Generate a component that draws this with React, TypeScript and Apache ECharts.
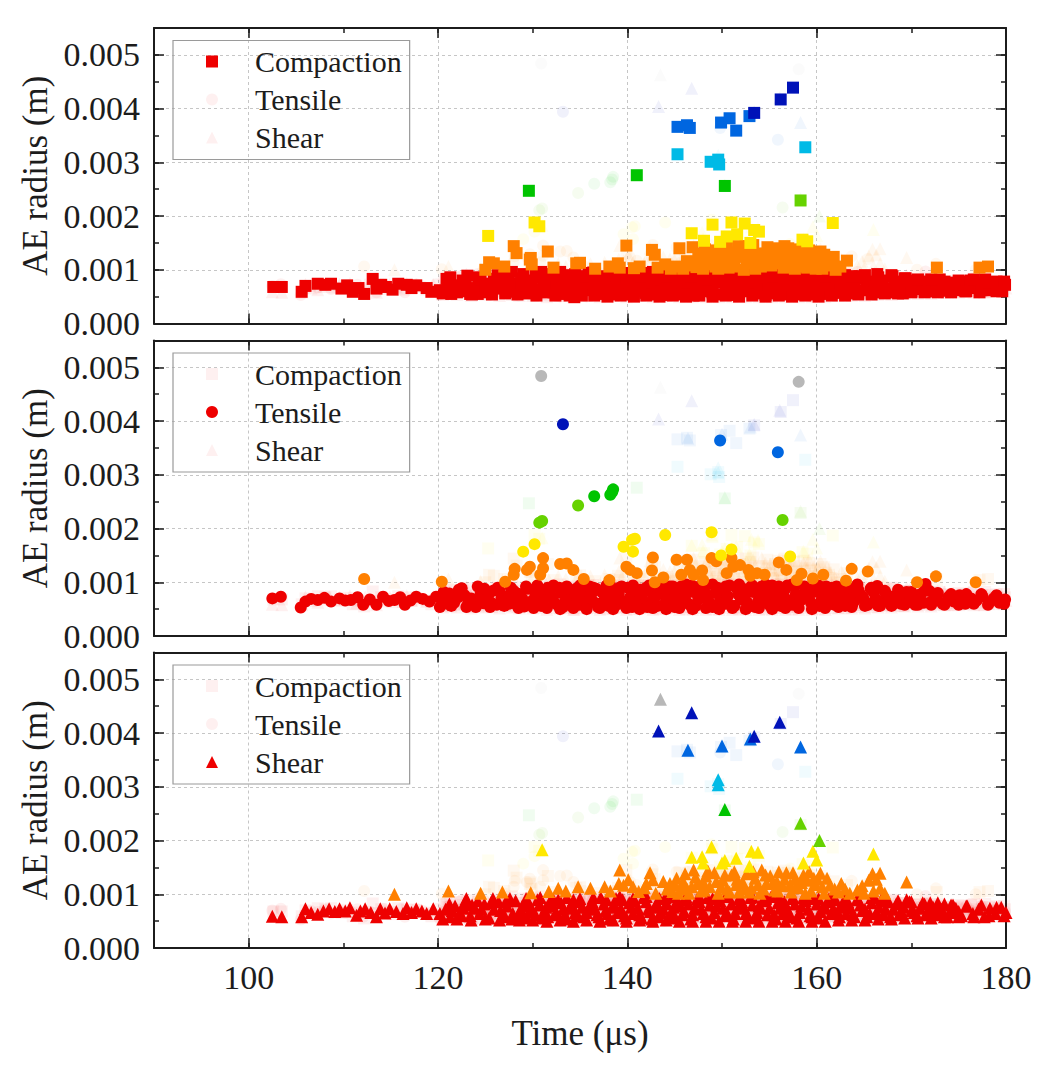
import React, { useEffect, useRef } from 'react';
import * as echarts from 'echarts';

// ---------- labels ----------
const typeNames = ['Compaction', 'Tensile', 'Shear'];
const xTickLabels = ['100', '120', '140', '160', '180'];
const yTickLabels = ['0.000', '0.001', '0.002', '0.003', '0.004', '0.005'];
const xAxisTitle = 'Time (μs)';
const yAxisTitle = 'AE radius (m)';

// ---------- Compaction (time µs, radius m) ----------
const compactionBand = [
  [102.6,6.8e-4],[103.5,6.8e-4],[105.6,5.9e-4],[106.0,7.0e-4],[107.3,7.4e-4],[108.1,7.2e-4],[108.7,7.4e-4],[109.8,6.5e-4],[110.4,7.1e-4],[111.0,5.9e-4],[111.6,6.6e-4],[112.2,5.5e-4],[113.1,8.3e-4],[113.5,6.5e-4],[114.0,7.2e-4],[114.5,6.8e-4],[115.2,6.3e-4],[115.8,7.4e-4],[116.7,7.2e-4],[117.2,6.6e-4],[117.7,7.1e-4],[118.8,6.6e-4],[119.3,5.9e-4],
  [120.2,6.2e-4],[120.9,8.3e-4],[121.4,5.5e-4],[121.8,7.0e-4],[122.3,7.1e-4],[122.8,6.0e-4],[123.1,8.9e-4],[123.4,5.5e-4],[124.2,5.5e-4],[124.8,7.1e-4],[125.3,6.2e-4],[125.9,8.3e-4],[126.6,6.5e-4],[127.1,5.6e-4],[127.8,9.6e-4],[128.0,5.9e-4],[128.5,7.4e-4],[129.0,9.2e-4],[129.7,8.0e-4],[130.1,6.4e-4],[130.4,5.2e-4],[130.9,9.6e-4],[131.2,7.4e-4],[131.6,7.1e-4],[132.2,5.8e-4],[132.9,9.6e-4],[133.2,5.5e-4],[133.6,7.8e-4],[134.0,6.6e-4],[134.4,4.9e-4],[134.9,8.6e-4],[135.3,6.5e-4],[135.9,7.6e-4],[136.4,9.5e-4],[136.8,5.5e-4],[137.3,7.0e-4],[137.8,8.8e-4],[138.2,5.8e-4],[138.7,7.4e-4],[139.2,9.2e-4],[139.6,6.2e-4],[140.1,5.4e-4],[140.6,8.0e-4],[141.0,7.0e-4],[141.5,9.4e-4],[141.9,5.7e-4],[142.4,7.6e-4],[142.9,8.6e-4],[143.3,6.3e-4],[143.8,5.3e-4],[144.2,9.0e-4],[144.7,7.2e-4],[145.1,5.8e-4],[145.6,8.4e-4],[146.0,9.6e-4],[146.5,6.5e-4],[147.0,5.2e-4],[147.4,7.8e-4],[147.9,9.2e-4],[148.3,6.0e-4],[148.8,7.0e-4],[149.2,8.8e-4],[149.7,5.4e-4],[150.1,7.6e-4],[150.6,9.5e-4],[151.0,6.4e-4],[151.5,5.3e-4],[151.9,8.2e-4],[152.4,7.2e-4],[152.8,9.0e-4],[153.3,5.8e-4],[153.7,6.8e-4],[154.2,8.6e-4],[154.6,5.3e-4],[155.1,9.4e-4],[155.5,7.4e-4],[156.0,6.0e-4],[156.4,8.4e-4],[156.9,5.4e-4],[157.3,9.2e-4],[157.8,6.8e-4],[158.2,7.8e-4],[158.7,5.6e-4],[159.1,8.9e-4],[159.6,6.5e-4],[160.0,7.4e-4],[160.5,5.5e-4],[160.9,9.0e-4],[161.4,6.8e-4],[161.8,7.8e-4],[162.3,5.7e-4],[162.8,8.6e-4],[163.2,6.6e-4],[163.7,7.6e-4],[164.2,5.8e-4],[164.8,8.4e-4],[165.3,6.8e-4],[165.9,6.0e-4],[166.4,9.2e-4],[166.9,7.4e-4],[167.5,6.2e-4],[168.0,8.8e-4],[168.6,6.8e-4],[169.1,5.6e-4],[169.7,7.6e-4],[170.3,6.4e-4],[170.9,7.2e-4],[171.5,6.0e-4],[172.1,7.0e-4],[172.7,6.5e-4],[173.3,7.3e-4],[173.9,6.1e-4],[174.5,6.8e-4],[175.1,7.2e-4],[175.7,6.0e-4],[176.3,8.0e-4],[176.9,6.6e-4],[177.5,7.6e-4],[178.1,6.2e-4],[178.7,7.0e-4],[179.3,6.5e-4],[179.9,7.2e-4],
];
const compactionBand2 = [
  [121.1,7.6e-4],[121.6,6.4e-4],[122.6,8.0e-4],[123.7,6.6e-4],[124.5,8.2e-4],[125.1,5.8e-4],[125.6,7.4e-4],[126.3,9.0e-4],[126.9,7.2e-4],[127.4,8.4e-4],[128.2,6.6e-4],[128.8,8.4e-4],[129.3,6.0e-4],[129.9,7.2e-4],[130.6,8.6e-4],[131.4,5.8e-4],[132.0,8.6e-4],[132.5,6.8e-4],[133.0,7.6e-4],[133.8,9.0e-4],[134.2,5.6e-4],[134.7,7.4e-4],[135.1,5.6e-4],[135.6,8.8e-4],[136.1,6.2e-4],[136.6,7.8e-4],[137.1,6.0e-4],[137.6,8.0e-4],[138.0,6.6e-4],[138.5,9.4e-4],[139.0,5.4e-4],[139.4,7.8e-4],[139.9,8.6e-4],[140.4,6.6e-4],[140.8,9.2e-4],[141.3,6.0e-4],[141.7,7.8e-4],[142.2,5.4e-4],[142.6,9.2e-4],[143.1,7.0e-4],[143.5,8.2e-4],[144.0,6.4e-4],[144.5,7.8e-4],[144.9,9.4e-4],[145.4,6.8e-4],[145.8,5.4e-4],[146.3,7.6e-4],[146.7,8.8e-4],[147.2,6.2e-4],[147.6,9.6e-4],[148.1,7.4e-4],[148.5,8.2e-4],[149.0,5.8e-4],[149.5,7.8e-4],[149.9,9.6e-4],[150.4,6.2e-4],[150.8,8.6e-4],[151.2,7.2e-4],[151.7,9.4e-4],[152.2,6.0e-4],[152.6,7.8e-4],[153.1,9.6e-4],[153.5,7.6e-4],[154.0,5.6e-4],[154.4,7.8e-4],[154.9,6.4e-4],[155.3,8.8e-4],[155.8,5.6e-4],[156.2,9.6e-4],[156.7,7.0e-4],[157.1,6.2e-4],[157.6,8.6e-4],[158.0,5.4e-4],[158.5,9.4e-4],[158.9,7.0e-4],[159.4,5.4e-4],[159.8,8.4e-4],[160.3,6.6e-4],[160.7,7.8e-4],[161.2,9.4e-4],[161.6,5.8e-4],[162.1,7.2e-4],[162.5,6.4e-4],[163.0,9.0e-4],[163.5,5.6e-4],[164.0,7.2e-4],[164.5,8.8e-4],[165.0,6.2e-4],[165.6,7.8e-4],[166.1,5.8e-4],[166.7,8.0e-4],[167.2,6.6e-4],[167.8,5.8e-4],[168.3,7.8e-4],[168.9,6.4e-4],[169.4,8.4e-4],[170.0,6.0e-4],[170.6,8.0e-4],[171.2,6.6e-4],[171.8,7.8e-4],[172.4,6.0e-4],[173.0,8.2e-4],[173.6,6.6e-4],[174.2,7.6e-4],[174.8,6.2e-4],[175.4,7.8e-4],[176.0,6.8e-4],[176.6,7.2e-4],[177.2,5.8e-4],[177.8,8.2e-4],[178.4,6.8e-4],[179.0,7.8e-4],[179.6,6.0e-4],
];
const compactionBand3 = [
  [120.5,5.6e-4],[121.3,8.6e-4],[122.0,5.8e-4],[122.9,7.4e-4],[123.6,5.4e-4],[124.3,8.6e-4],[125.0,6.8e-4],[125.7,5.4e-4],[126.4,7.8e-4],[127.0,9.0e-4],[127.6,6.8e-4],[128.4,5.4e-4],[129.1,7.0e-4],[129.6,5.6e-4],[130.3,9.0e-4],[131.0,6.0e-4],[131.8,9.2e-4],[132.4,5.2e-4],[133.1,6.6e-4],[133.9,5.2e-4],[134.5,9.2e-4],[135.2,5.2e-4],[135.9,9.4e-4],[136.5,5.2e-4],[137.2,8.6e-4],[137.9,5.0e-4],[138.6,9.0e-4],[139.3,5.2e-4],[140.0,9.4e-4],[140.7,5.0e-4],[141.4,8.8e-4],[142.0,5.2e-4],[142.7,9.6e-4],[143.4,5.0e-4],[144.1,8.8e-4],[144.8,5.2e-4],[145.5,9.4e-4],[146.2,5.0e-4],[146.9,9.2e-4],[147.6,5.2e-4],[148.3,9.4e-4],[149.0,5.0e-4],[149.7,9.2e-4],[150.4,5.2e-4],[151.1,9.6e-4],[151.8,5.0e-4],[152.5,9.4e-4],[153.2,5.2e-4],[153.9,9.2e-4],[154.6,5.0e-4],[155.3,9.6e-4],[156.0,5.2e-4],[156.7,9.4e-4],[157.4,5.0e-4],[158.1,9.0e-4],[158.8,5.2e-4],[159.5,9.4e-4],[160.2,5.0e-4],[160.9,8.8e-4],[161.6,5.2e-4],[162.3,9.2e-4],[163.0,5.2e-4],[163.7,8.8e-4],[164.4,5.4e-4],[165.1,9.0e-4],[165.8,5.4e-4],[166.5,8.6e-4],[167.2,5.6e-4],[167.9,9.0e-4],[168.6,5.6e-4],[169.3,8.4e-4],[170.0,5.8e-4],[170.7,8.2e-4],[171.4,5.8e-4],[172.1,8.2e-4],[172.8,5.8e-4],[173.5,7.8e-4],[174.2,5.8e-4],[175.0,8.0e-4],[175.8,6.0e-4],[176.6,8.2e-4],[177.4,6.2e-4],[178.2,7.6e-4],[179.0,6.0e-4],[179.8,7.8e-4],
];
const compactionOrange = [
  [125.0,1.00e-3],[125.4,1.14e-3],[125.9,1.12e-3],[128.0,1.44e-3],[128.3,1.31e-3],[129.7,1.19e-3],[129.9,1.10e-3],[129.8,1.22e-3],[131.6,1.34e-3],[134.6,1.12e-3],[135.0,1.13e-3],[138.1,1.06e-3],[139.0,1.12e-3],[139.2,1.04e-3],[139.9,1.45e-3],[140.7,1.03e-3],[142.6,1.37e-3],[142.9,1.28e-3],[144.0,1.10e-3],[145.1,1.06e-3],[145.5,1.40e-3],[146.3,1.16e-3],[146.9,1.42e-3],
  [127.0,1.06e-3],[132.2,1.04e-3],[136.6,1.02e-3],[141.3,1.06e-3],[143.2,1.04e-3],[144.6,1.02e-3],
  [147.3,1.05e-3],[147.8,1.22e-3],[148.2,1.38e-3],[148.7,1.10e-3],[149.1,1.28e-3],[149.6,1.02e-3],[150.0,1.40e-3],[150.4,1.18e-3],[150.9,1.32e-3],[151.3,1.06e-3],[151.7,1.44e-3],[152.1,1.24e-3],[152.6,1.12e-3],[153.0,1.38e-3],[153.5,1.02e-3],[153.9,1.30e-3],[154.3,1.18e-3],[154.8,1.42e-3],[155.2,1.08e-3],[155.6,1.34e-3],[156.1,1.22e-3],[156.5,1.04e-3],[157.0,1.40e-3],[157.4,1.16e-3],[157.9,1.30e-3],[158.3,1.06e-3],[158.8,1.26e-3],[159.2,1.36e-3],[159.7,1.12e-3],[160.1,1.24e-3],[160.6,1.02e-3],[161.0,1.18e-3],[161.5,1.08e-3],[162.0,1.00e-3],
  [148.0,1.02e-3],[149.4,1.16e-3],[150.7,1.04e-3],[152.3,1.00e-3],[153.7,1.14e-3],[155.0,1.26e-3],[156.3,1.12e-3],[157.7,1.02e-3],[159.0,1.04e-3],[160.4,1.34e-3],[145.9,1.02e-3],[146.6,1.08e-3],
  [147.5,1.30e-3],[148.4,1.20e-3],[149.3,1.06e-3],[150.2,1.28e-3],[151.0,1.12e-3],[151.9,1.34e-3],[152.8,1.26e-3],[153.3,1.46e-3],[154.1,1.06e-3],[155.4,1.18e-3],[155.9,1.40e-3],[156.8,1.30e-3],[157.2,1.08e-3],[158.1,1.20e-3],[158.6,1.40e-3],[159.4,1.22e-3],[159.9,1.02e-3],[160.8,1.28e-3],[161.3,1.14e-3],[161.8,1.24e-3],[162.5,1.06e-3],[147.0,1.14e-3],[148.9,1.36e-3],[150.5,1.42e-3],[152.5,1.44e-3],[154.6,1.30e-3],[156.6,1.44e-3],[157.6,1.38e-3],
  [163.2,1.17e-3],[172.7,1.04e-3],[177.2,1.04e-3],[178.1,1.06e-3],
];
const compactionHigh = [
  [125.3,1.63e-3],[130.2,1.88e-3],[130.7,1.81e-3],[146.8,1.68e-3],[148.1,1.54e-3],[149.0,1.84e-3],[149.8,1.52e-3],[150.5,1.62e-3],[151.0,1.88e-3],[151.6,1.66e-3],[152.4,1.86e-3],[153.0,1.50e-3],[153.4,1.74e-3],[153.9,1.71e-3],[158.5,1.56e-3],[159.0,1.53e-3],[161.7,1.87e-3],
  [129.6,2.47e-3],[141.0,2.76e-3],[150.3,2.56e-3],[158.3,2.29e-3],
  [145.3,3.15e-3],[148.8,3.01e-3],[149.6,3.05e-3],[149.7,2.96e-3],[158.8,3.28e-3],
  [145.3,3.66e-3],[146.3,3.69e-3],[146.6,3.64e-3],[149.9,3.74e-3],[150.8,3.82e-3],[151.5,3.59e-3],[152.9,3.86e-3],
  [153.4,3.92e-3],[156.2,4.17e-3],[157.5,4.39e-3],
];

// ---------- Tensile ----------
const tensileBand = [
  [102.5,7.0e-4],[103.4,7.3e-4],[105.5,5.3e-4],[106.0,6.4e-4],[106.6,6.9e-4],[107.3,6.7e-4],[108.0,7.1e-4],[108.7,6.4e-4],[109.6,7.0e-4],[110.2,6.6e-4],[110.8,6.7e-4],[111.5,7.2e-4],[112.1,5.8e-4],[112.8,6.8e-4],[113.5,5.8e-4],[114.2,7.3e-4],[114.8,6.5e-4],[115.4,6.7e-4],[116.0,7.2e-4],[116.5,5.8e-4],[117.1,6.6e-4],[117.7,7.3e-4],[118.4,6.9e-4],[119.1,6.4e-4],[119.8,7.3e-4],
  [120.2,5.4e-4],[120.7,6.8e-4],[121.2,7.9e-4],[121.7,6.2e-4],[122.1,7.2e-4],[122.5,8.9e-4],[123.0,5.4e-4],[123.5,7.0e-4],[124.2,9.2e-4],[124.8,6.1e-4],[125.3,7.6e-4],[125.8,8.4e-4],[126.2,5.8e-4],[126.7,7.0e-4],[127.2,7.3e-4],[127.7,9.0e-4],[128.2,6.0e-4],[128.6,7.8e-4],[129.1,5.5e-4],[129.5,8.8e-4],[130.0,6.6e-4],[130.5,9.4e-4],[130.9,5.6e-4],[131.4,7.4e-4],[131.8,8.6e-4],[132.3,6.2e-4],[132.8,9.0e-4],[133.2,5.4e-4],[133.7,7.6e-4],[134.1,6.6e-4],[134.6,8.8e-4],[135.0,5.8e-4],[135.5,7.2e-4],[136.0,9.2e-4],[136.4,6.4e-4],[136.9,5.4e-4],[137.3,8.2e-4],[137.8,7.0e-4],[138.2,9.4e-4],[138.7,5.6e-4],[139.1,7.8e-4],[139.6,6.4e-4],[140.0,9.0e-4],[140.5,5.4e-4],[140.9,7.4e-4],[141.4,8.6e-4],[141.8,6.2e-4],[142.3,9.4e-4],[142.7,7.0e-4],[143.2,5.6e-4],[143.6,8.2e-4],[144.1,6.6e-4],[144.5,9.2e-4],[145.0,5.4e-4],[145.4,7.6e-4],[145.9,8.8e-4],[146.3,6.2e-4],[146.8,9.4e-4],[147.2,5.6e-4],[147.7,7.4e-4],[148.1,8.6e-4],[148.6,6.4e-4],[149.0,5.4e-4],[149.5,9.0e-4],[149.9,7.2e-4],[150.4,6.0e-4],[150.8,9.4e-4],[151.3,5.6e-4],[151.7,7.8e-4],[152.2,8.8e-4],[152.6,6.4e-4],[153.1,9.2e-4],[153.5,5.4e-4],[154.0,7.4e-4],[154.4,8.4e-4],[154.9,6.0e-4],[155.3,9.4e-4],[155.8,7.0e-4],[156.2,5.6e-4],[156.7,8.8e-4],[157.1,6.6e-4],[157.6,9.2e-4],[158.0,5.8e-4],[158.5,7.6e-4],[158.9,8.6e-4],[159.4,6.2e-4],[159.8,9.0e-4],[160.3,5.6e-4],[160.7,7.4e-4],[161.2,8.4e-4],[161.6,6.0e-4],[162.1,9.2e-4],[162.5,6.8e-4],[163.0,5.6e-4],[163.5,8.0e-4],[164.0,6.6e-4],[164.3,9.6e-4],[164.9,7.2e-4],[165.4,5.8e-4],[166.0,8.2e-4],[166.4,9.3e-4],[166.9,6.4e-4],[167.5,7.6e-4],[168.0,5.8e-4],[168.6,8.0e-4],[169.2,6.6e-4],[169.8,7.4e-4],[170.4,5.8e-4],[171.0,7.8e-4],[171.5,9.7e-4],[172.1,6.4e-4],[172.7,7.4e-4],[173.3,6.0e-4],[173.9,7.2e-4],[174.5,6.4e-4],[175.1,7.6e-4],[175.7,6.0e-4],[176.3,7.0e-4],[176.9,6.6e-4],[177.5,7.4e-4],[178.1,5.8e-4],[178.7,7.0e-4],[179.3,6.2e-4],[179.9,6.8e-4],
];
const tensileBand2 = [
  [121.0,6.0e-4],[122.8,7.6e-4],[123.8,6.4e-4],[124.5,7.8e-4],[125.6,6.2e-4],[126.5,8.4e-4],[127.5,6.0e-4],[128.0,8.4e-4],[128.9,7.0e-4],[129.8,5.8e-4],[130.3,7.8e-4],[131.1,6.4e-4],[131.6,9.0e-4],[132.1,7.2e-4],[132.6,5.8e-4],[133.0,8.0e-4],[133.5,6.6e-4],[134.4,5.6e-4],[134.8,7.4e-4],[135.3,8.4e-4],[135.7,6.2e-4],[136.2,7.8e-4],[136.7,8.8e-4],[137.1,6.0e-4],[137.6,7.6e-4],[138.0,5.6e-4],[138.5,8.2e-4],[138.9,6.6e-4],[139.4,9.2e-4],[139.8,5.6e-4],[140.3,7.2e-4],[140.7,8.4e-4],[141.2,6.2e-4],[141.6,7.8e-4],[142.1,5.4e-4],[142.5,8.6e-4],[143.0,7.4e-4],[143.4,9.0e-4],[143.9,5.8e-4],[144.3,7.6e-4],[144.8,8.6e-4],[145.2,6.4e-4],[145.7,9.2e-4],[146.1,7.4e-4],[146.6,5.8e-4],[147.0,8.2e-4],[147.5,6.8e-4],[147.9,9.0e-4],[148.4,7.6e-4],[148.8,5.8e-4],[149.3,8.0e-4],[149.7,6.2e-4],[150.2,8.8e-4],[150.6,7.4e-4],[151.1,5.6e-4],[151.5,9.0e-4],[152.0,6.8e-4],[152.4,7.8e-4],[152.9,5.6e-4],[153.3,8.2e-4],[153.8,6.4e-4],[154.2,9.2e-4],[154.7,7.6e-4],[155.1,5.6e-4],[155.6,8.2e-4],[156.0,6.6e-4],[156.5,7.6e-4],[156.9,9.4e-4],[157.4,5.8e-4],[157.8,7.8e-4],[158.3,6.6e-4],[158.7,9.2e-4],[159.2,7.4e-4],[159.6,5.6e-4],[160.1,8.2e-4],[160.5,6.6e-4],[161.0,9.2e-4],[161.4,7.2e-4],[161.9,5.8e-4],[162.3,8.2e-4],[162.8,7.0e-4],[163.3,9.0e-4],[163.8,6.0e-4],[164.6,7.8e-4],[165.1,6.4e-4],[165.7,8.8e-4],[166.2,7.0e-4],[166.7,5.6e-4],[167.2,8.4e-4],[167.8,6.8e-4],[168.3,7.4e-4],[168.9,6.0e-4],[169.5,8.2e-4],[170.1,6.6e-4],[170.7,7.6e-4],[171.3,6.2e-4],[171.9,8.4e-4],
];
const tensileBand3 = [
  [120.6,8.2e-4],[121.4,5.6e-4],[122.2,8.6e-4],[123.2,6.2e-4],[124.0,5.4e-4],[124.9,8.8e-4],[125.5,5.4e-4],[126.3,9.0e-4],[127.0,5.6e-4],[127.9,7.0e-4],[128.5,5.2e-4],[129.3,9.2e-4],[130.1,5.2e-4],[130.7,8.6e-4],[131.5,5.2e-4],[132.2,9.4e-4],[132.9,5.0e-4],[133.6,9.2e-4],[134.3,5.2e-4],[135.0,9.4e-4],[135.7,5.0e-4],[136.4,9.0e-4],[137.1,5.2e-4],[137.8,9.4e-4],[138.5,5.0e-4],[139.2,9.0e-4],[139.9,5.2e-4],[140.6,9.4e-4],[141.3,5.0e-4],[142.0,9.0e-4],[142.7,5.2e-4],[143.4,9.6e-4],[144.1,5.0e-4],[144.8,9.2e-4],[145.5,5.2e-4],[146.2,9.6e-4],[146.9,5.0e-4],[147.6,9.2e-4],[148.3,5.2e-4],[149.0,9.6e-4],[149.7,5.0e-4],[150.4,9.2e-4],[151.1,5.2e-4],[151.8,9.6e-4],[152.5,5.0e-4],[153.2,9.4e-4],[153.9,5.2e-4],[154.6,9.6e-4],[155.3,5.0e-4],[156.0,9.2e-4],[156.7,5.2e-4],[157.4,9.6e-4],[158.1,5.2e-4],[158.8,9.0e-4],[159.5,5.0e-4],[160.2,9.4e-4],[160.9,5.2e-4],[161.6,9.0e-4],[162.3,5.4e-4],[163.0,9.2e-4],[163.7,5.4e-4],[164.4,8.6e-4],[165.1,5.6e-4],[165.8,9.0e-4],[166.5,5.6e-4],[167.2,8.2e-4],[167.9,5.6e-4],[168.6,8.6e-4],[169.3,5.8e-4],[170.0,8.2e-4],[170.7,5.8e-4],[171.4,8.4e-4],[172.1,5.8e-4],[172.8,8.0e-4],[173.5,5.8e-4],[174.2,7.8e-4],[175.0,5.8e-4],[175.8,7.8e-4],[176.6,6.0e-4],[177.4,7.8e-4],[178.2,6.2e-4],[179.0,7.6e-4],[179.8,6.0e-4],
];
const tensileOrange = [
  [112.2,1.06e-3],[120.4,1.01e-3],[127.1,1.01e-3],[128.0,1.14e-3],[128.1,1.25e-3],[129.4,1.23e-3],[129.7,1.29e-3],[130.8,1.14e-3],[131.1,1.26e-3],[131.1,1.45e-3],[132.9,1.34e-3],[133.6,1.35e-3],[134.3,1.23e-3],[135.4,1.06e-3],[138.1,1.04e-3],[139.9,1.29e-3],[140.3,1.23e-3],[141.0,1.17e-3],[142.6,1.22e-3],[142.7,1.46e-3],[142.9,1.00e-3],[143.8,1.09e-3],[145.2,1.42e-3],[145.7,1.14e-3],[146.3,1.42e-3],[146.6,1.23e-3],[147.0,1.14e-3],[147.9,1.22e-3],[148.0,1.04e-3],[148.9,1.45e-3],[149.4,1.39e-3],[150.5,1.17e-3],[151.0,1.45e-3],[151.2,1.29e-3],[151.9,1.32e-3],[152.8,1.23e-3],[153.0,1.12e-3],[153.7,1.17e-3],[154.5,1.14e-3],[156.0,1.37e-3],[156.8,1.23e-3],[157.9,1.04e-3],[158.4,1.16e-3],[159.6,1.07e-3],[160.7,1.14e-3],[163.1,1.03e-3],[163.7,1.25e-3],[165.4,1.20e-3],[170.6,1.00e-3],[172.6,1.11e-3],[176.8,1.00e-3],
];
const tensileHigh = [
  [129.0,1.57e-3],[130.2,1.71e-3],[139.6,1.66e-3],[140.5,1.79e-3],[140.8,1.81e-3],[140.6,1.57e-3],[144.0,1.88e-3],[148.9,1.93e-3],[149.9,1.50e-3],[151.0,1.61e-3],[157.2,1.48e-3],
  [130.7,2.11e-3],[131.0,2.14e-3],[134.8,2.43e-3],[156.4,2.16e-3],[136.5,2.60e-3],[138.2,2.63e-3],[138.4,2.68e-3],[138.5,2.73e-3],
  [149.8,3.64e-3],[155.9,3.42e-3],[133.2,3.94e-3],[130.9,4.84e-3],[158.1,4.73e-3],
];

// ---------- Shear ----------
const shearBand = [
  [102.5,5.9e-4],[103.5,5.8e-4],[105.6,5.8e-4],[106.0,7.3e-4],[106.6,6.6e-4],[107.3,6.3e-4],[107.9,6.9e-4],[108.5,7.3e-4],[109.1,6.8e-4],[109.6,7.3e-4],[110.2,6.9e-4],[110.7,7.5e-4],[111.4,6.1e-4],[111.8,6.9e-4],[112.3,7.3e-4],[112.9,6.6e-4],[113.5,5.8e-4],[113.9,7.3e-4],[114.4,6.5e-4],[114.9,7.3e-4],[115.6,6.8e-4],[116.3,6.4e-4],[116.7,7.5e-4],[117.2,6.6e-4],[117.7,7.3e-4],[118.3,6.9e-4],[118.8,6.4e-4],[119.5,7.3e-4],
  [120.2,6.4e-4],[120.8,7.2e-4],[121.3,5.8e-4],[121.8,7.8e-4],[122.3,6.6e-4],[122.8,8.4e-4],[123.0,9.2e-4],[123.4,6.0e-4],[123.9,7.4e-4],[124.4,6.4e-4],[124.9,8.2e-4],[125.4,5.6e-4],[125.9,7.2e-4],[126.4,8.6e-4],[126.9,6.2e-4],[127.3,7.8e-4],[127.8,5.4e-4],[128.2,8.8e-4],[128.7,7.0e-4],[129.1,6.0e-4],[129.6,8.4e-4],[130.0,6.8e-4],[130.5,9.0e-4],[130.9,5.6e-4],[131.4,7.6e-4],[131.8,8.6e-4],[132.3,6.2e-4],[132.7,9.0e-4],[133.2,7.2e-4],[133.6,5.4e-4],[134.1,8.2e-4],[134.5,6.6e-4],[135.0,9.2e-4],[135.4,5.8e-4],[135.9,7.4e-4],[136.3,8.6e-4],[136.8,6.2e-4],[137.2,9.4e-4],[137.7,7.0e-4],[138.1,5.4e-4],[138.6,8.0e-4],[139.0,6.6e-4],[139.5,9.0e-4],[139.9,5.6e-4],[140.4,7.6e-4],[140.8,8.8e-4],[141.3,6.2e-4],[141.7,9.4e-4],[142.2,7.2e-4],[142.6,5.4e-4],[143.1,8.4e-4],[143.5,6.6e-4],[144.0,9.4e-4],[144.4,5.8e-4],[144.9,7.6e-4],[145.3,8.8e-4],[145.8,6.2e-4],[146.2,9.6e-4],[146.7,5.4e-4],[147.1,7.4e-4],[147.6,8.6e-4],[148.0,6.4e-4],[148.5,9.4e-4],[148.9,5.6e-4],[149.4,7.8e-4],[149.8,8.8e-4],[150.3,6.0e-4],[150.7,9.6e-4],[151.2,5.4e-4],[151.6,7.4e-4],[152.1,8.6e-4],[152.5,6.4e-4],[153.0,9.4e-4],[153.4,5.6e-4],[153.9,7.8e-4],[154.3,8.8e-4],[154.8,6.2e-4],[155.2,9.6e-4],[155.7,5.4e-4],[156.1,7.4e-4],[156.6,8.6e-4],[157.0,6.4e-4],[157.5,9.4e-4],[157.9,5.6e-4],[158.4,7.8e-4],[158.8,8.8e-4],[159.3,6.0e-4],[159.7,9.2e-4],[160.2,5.6e-4],[160.6,7.4e-4],[161.1,8.6e-4],[161.5,6.4e-4],[162.0,9.0e-4],[162.4,5.8e-4],[162.9,7.6e-4],[163.3,8.6e-4],[163.8,6.2e-4],[164.3,9.2e-4],[164.8,7.0e-4],[165.3,5.8e-4],[165.8,8.4e-4],[166.3,6.6e-4],[166.8,9.0e-4],[167.3,7.2e-4],[167.8,5.8e-4],[168.4,8.2e-4],[168.9,6.6e-4],[169.5,9.0e-4],[170.0,7.0e-4],[170.6,6.0e-4],[171.2,8.4e-4],[171.7,6.8e-4],[172.3,7.6e-4],[172.9,6.2e-4],[173.5,8.2e-4],[174.1,6.6e-4],[174.7,7.4e-4],[175.3,6.0e-4],[175.9,7.8e-4],[176.5,6.4e-4],[177.1,7.2e-4],[177.7,5.8e-4],[178.3,7.4e-4],[178.9,6.4e-4],[179.5,7.6e-4],[180.0,6.6e-4],
];
const shearBand2 = [
  [121.5,7.0e-4],[122.5,6.0e-4],[123.6,8.0e-4],[124.6,7.2e-4],[125.6,8.4e-4],[126.6,7.0e-4],[127.1,5.8e-4],[127.6,9.2e-4],[128.5,6.2e-4],[128.9,7.8e-4],[129.4,5.6e-4],[129.8,7.4e-4],[130.3,6.2e-4],[130.7,8.0e-4],[131.2,6.8e-4],[131.6,5.8e-4],[132.1,7.8e-4],[132.5,6.6e-4],[133.0,8.4e-4],[133.4,6.2e-4],[133.9,7.4e-4],[134.3,9.0e-4],[134.8,6.0e-4],[135.2,7.6e-4],[135.7,6.6e-4],[136.1,8.0e-4],[136.6,7.2e-4],[137.0,5.8e-4],[137.5,8.2e-4],[137.9,6.4e-4],[138.4,7.6e-4],[138.8,9.2e-4],[139.3,7.4e-4],[139.7,6.0e-4],[140.2,8.4e-4],[140.6,6.4e-4],[141.1,7.4e-4],[141.5,5.6e-4],[142.0,8.6e-4],[142.4,6.8e-4],[142.9,7.6e-4],[143.3,5.8e-4],[143.8,7.2e-4],[144.2,8.2e-4],[144.7,6.6e-4],[145.1,5.6e-4],[145.6,7.8e-4],[146.0,6.8e-4],[146.5,8.2e-4],[146.9,6.2e-4],[147.4,9.2e-4],[147.8,7.2e-4],[148.3,5.8e-4],[148.7,8.0e-4],[149.2,6.6e-4],[149.6,9.2e-4],[150.1,7.4e-4],[150.5,6.6e-4],[151.0,8.2e-4],[151.4,6.4e-4],[151.9,9.4e-4],[152.3,7.6e-4],[152.8,5.8e-4],[153.2,8.0e-4],[153.7,6.6e-4],[154.1,7.4e-4],[154.6,9.2e-4],[155.0,7.4e-4],[155.5,6.2e-4],[155.9,8.4e-4],[156.4,6.4e-4],[156.8,7.6e-4],[157.3,5.8e-4],[157.7,8.2e-4],[158.2,6.6e-4],[158.6,9.4e-4],[159.1,7.2e-4],[159.5,5.8e-4],[160.0,8.2e-4],[160.4,6.8e-4],[160.9,7.6e-4],[161.3,9.2e-4],[161.8,7.2e-4],[162.2,6.8e-4],[162.7,8.2e-4],[163.1,6.4e-4],[163.6,7.4e-4],[164.0,5.8e-4],[164.6,8.0e-4],[165.1,7.2e-4],[165.6,6.4e-4],[166.1,9.4e-4],[166.6,7.6e-4],[167.1,6.2e-4],[167.6,8.6e-4],[168.1,7.2e-4],[168.7,6.2e-4],[169.2,7.6e-4],[169.8,8.6e-4],[170.3,6.6e-4],[170.9,7.4e-4],[171.5,6.2e-4],[172.0,8.4e-4],[172.6,6.8e-4],[173.2,7.2e-4],[173.8,5.8e-4],[174.4,8.0e-4],[175.0,6.8e-4],
];
const shearBand3 = [
  [120.5,5.4e-4],[121.2,8.2e-4],[122.0,5.4e-4],[122.7,7.4e-4],[123.5,5.2e-4],[124.2,8.8e-4],[125.0,5.4e-4],[125.8,9.2e-4],[126.5,5.2e-4],[127.2,8.8e-4],[127.9,6.4e-4],[128.6,5.2e-4],[129.3,9.2e-4],[130.0,5.2e-4],[130.8,9.4e-4],[131.5,5.0e-4],[132.2,9.0e-4],[132.9,5.2e-4],[133.6,9.4e-4],[134.3,5.0e-4],[135.0,8.6e-4],[135.7,5.2e-4],[136.4,9.4e-4],[137.1,5.0e-4],[137.8,9.0e-4],[138.5,5.2e-4],[139.2,9.6e-4],[139.9,5.0e-4],[140.6,9.2e-4],[141.3,5.2e-4],[142.0,9.6e-4],[142.7,5.0e-4],[143.4,9.2e-4],[144.1,5.2e-4],[144.8,9.6e-4],[145.5,5.0e-4],[146.2,9.0e-4],[146.9,5.0e-4],[147.6,9.6e-4],[148.3,5.0e-4],[149.0,9.2e-4],[149.7,5.0e-4],[150.4,9.6e-4],[151.1,5.0e-4],[151.8,9.2e-4],[152.5,5.0e-4],[153.2,9.6e-4],[153.9,5.0e-4],[154.6,9.4e-4],[155.3,5.0e-4],[156.0,9.6e-4],[156.7,5.0e-4],[157.4,9.2e-4],[158.1,5.0e-4],[158.8,9.6e-4],[159.5,5.0e-4],[160.2,9.2e-4],[160.9,5.0e-4],[161.6,9.6e-4],[162.3,5.2e-4],[163.0,9.2e-4],[163.7,5.2e-4],[164.4,9.0e-4],[165.1,5.2e-4],[165.8,9.4e-4],[166.5,5.4e-4],[167.2,8.8e-4],[167.9,5.4e-4],[168.6,8.8e-4],[169.3,5.6e-4],[170.0,8.6e-4],[170.7,5.6e-4],[171.4,8.2e-4],[172.1,5.6e-4],[172.8,8.4e-4],[173.5,5.8e-4],[174.2,8.0e-4],[175.0,5.8e-4],[175.8,7.8e-4],[176.6,5.8e-4],[177.4,8.0e-4],[178.2,6.0e-4],[179.0,7.6e-4],[179.8,6.0e-4],
];
const shearOrange = [
  [115.4,1.00e-3],[121.1,1.06e-3],[124.5,1.02e-3],[126.8,1.04e-3],[129.8,1.03e-3],[131.7,1.05e-3],[132.7,1.11e-3],[133.5,1.06e-3],[134.8,1.14e-3],[136.1,1.11e-3],[137.6,1.14e-3],[138.2,1.06e-3],[139.1,1.20e-3],[139.2,1.45e-3],[139.6,1.17e-3],[140.1,1.27e-3],[140.6,1.14e-3],[141.2,1.05e-3],[141.8,1.12e-3],[142.0,1.20e-3],[142.4,1.40e-3],[142.7,1.27e-3],[143.0,1.02e-3],[143.8,1.24e-3],[144.2,1.10e-3],[144.5,1.20e-3],
  [144.8,1.05e-3],[145.2,1.30e-3],[145.7,1.12e-3],[146.1,1.38e-3],[146.5,1.02e-3],[147.0,1.45e-3],[147.4,1.20e-3],[147.8,1.06e-3],[148.3,1.34e-3],[148.7,1.14e-3],[149.2,1.40e-3],[149.6,1.02e-3],[150.1,1.26e-3],[150.5,1.10e-3],[151.0,1.36e-3],[151.3,1.42e-3],[151.8,1.04e-3],[152.2,1.22e-3],[152.6,1.38e-3],[153.1,1.12e-3],[153.5,1.30e-3],[154.0,1.02e-3],[154.2,1.45e-3],[154.7,1.20e-3],[155.1,1.34e-3],[155.6,1.08e-3],[156.0,1.42e-3],[156.4,1.16e-3],[156.8,1.40e-3],[157.3,1.04e-3],[157.7,1.28e-3],[158.1,1.12e-3],[158.6,1.36e-3],[159.0,1.26e-3],[159.4,1.06e-3],[159.9,1.18e-3],[160.4,1.39e-3],[160.8,1.02e-3],[161.4,1.17e-3],[162.3,1.04e-3],[163.0,1.10e-3],[164.3,1.08e-3],[165.0,1.02e-3],[165.5,1.26e-3],[166.7,1.39e-3],[166.7,1.11e-3],[167.2,1.02e-3],[169.5,1.23e-3],
  [145.4,1.02e-3],[146.8,1.14e-3],[148.0,1.24e-3],[149.9,1.14e-3],[151.5,1.18e-3],[152.9,1.04e-3],[154.4,1.10e-3],[155.8,1.24e-3],[157.2,1.18e-3],[158.8,1.02e-3],[160.1,1.28e-3],
  [145.0,1.18e-3],[145.9,1.24e-3],[146.3,1.10e-3],[147.2,1.32e-3],[148.1,1.08e-3],[148.5,1.44e-3],[149.4,1.24e-3],[150.3,1.36e-3],[150.8,1.04e-3],[151.6,1.28e-3],[152.4,1.10e-3],[153.3,1.42e-3],[153.8,1.18e-3],[154.6,1.36e-3],[155.4,1.22e-3],[155.9,1.06e-3],[156.6,1.28e-3],[157.5,1.40e-3],[157.9,1.16e-3],[158.4,1.22e-3],[159.2,1.42e-3],[159.7,1.30e-3],[160.6,1.14e-3],[161.1,1.30e-3],[161.9,1.10e-3],[162.6,1.20e-3],[163.5,1.02e-3],[164.8,1.16e-3],[165.9,1.38e-3],[166.0,1.06e-3],[166.3,1.28e-3],
];
const shearHigh = [
  [131.0,1.83e-3],[146.8,1.69e-3],[147.9,1.70e-3],[148.0,1.58e-3],[148.9,1.88e-3],[150.0,1.58e-3],[150.3,1.63e-3],[151.5,1.67e-3],[153.1,1.80e-3],[153.8,1.78e-3],[152.9,1.52e-3],[159.6,1.80e-3],[158.6,1.58e-3],[160.0,1.64e-3],[166.0,1.75e-3],
  [158.3,2.32e-3],[160.3,2.00e-3],[150.3,2.58e-3],
  [149.6,3.13e-3],[149.6,3.04e-3],
  [146.4,3.68e-3],[150.0,3.76e-3],[153.0,3.89e-3],[158.3,3.74e-3],
  [143.3,4.04e-3],[146.8,4.38e-3],[156.1,4.20e-3],[153.4,3.94e-3],[143.5,4.63e-3],
];

const compactionData = [...compactionBand, ...compactionBand2, ...compactionBand3, ...compactionOrange, ...compactionHigh];
const tensileData = [...tensileBand, ...tensileBand2, ...tensileBand3, ...tensileOrange, ...tensileHigh];
const shearData = [...shearBand, ...shearBand2, ...shearBand3, ...shearOrange, ...shearHigh];
const seriesData = [compactionData, tensileData, shearData];

// ---------- styles ----------
const symbols = ['rect', 'circle', 'triangle'];
const symbolSizes = [12, 12, 13];
const FONT = "'Liberation Serif', 'Times New Roman', serif";
const INK = '#1c1c1c';
const gridTops = [28, 340.5, 652.5];
const gridH = 295.5;

function xAxisMain(p: number, pos: string) {
  const labelled = p === 2 && pos === 'bottom';
  return {
    type: 'value', gridIndex: p, position: pos, min: 90, max: 180,
    axisLine: { show: true, onZero: false, lineStyle: { color: INK, width: 2 } },
    axisTick: { show: true, inside: true, length: 10, lineStyle: { color: INK, width: 1.5 } },
    axisLabel: {
      show: labelled, margin: 12, fontSize: 34, fontFamily: FONT, color: INK, showMinLabel: false,
      formatter: (v: number) => (xTickLabels.includes(String(v)) ? String(v) : ''),
    },
    splitLine: { show: pos === 'bottom', lineStyle: { color: '#c6c6c6', type: [3, 3], width: 1 } },
    name: labelled ? xAxisTitle : '',
    nameLocation: 'middle', nameGap: 68,
    nameTextStyle: { fontSize: 35, fontFamily: FONT, color: INK },
  };
}
function xAxisMinor(p: number, pos: string) {
  return {
    type: 'value', gridIndex: p, position: pos, min: 90, max: 180, interval: 10,
    axisLine: { show: false, onZero: false },
    axisTick: { show: true, inside: true, length: 5, lineStyle: { color: INK, width: 1.5 } },
    axisLabel: { show: false }, splitLine: { show: false },
  };
}
function yAxisMain(p: number, pos: string) {
  const left = pos === 'left';
  return {
    type: 'value', gridIndex: p, position: pos, min: 0, max: 0.0055, interval: 0.001,
    axisLine: { show: true, onZero: false, lineStyle: { color: INK, width: 2 } },
    axisTick: { show: true, inside: true, length: 10, lineStyle: { color: INK, width: 1.5 } },
    axisLabel: {
      show: left, margin: 14, fontSize: 34, fontFamily: FONT, color: INK, showMaxLabel: false,
      formatter: (v: number) => {
        const s = v.toFixed(3);
        return Math.abs(v - Number(s)) < 1e-9 && yTickLabels.includes(s) ? s : '';
      },
    },
    splitLine: { show: left, lineStyle: { color: '#c6c6c6', type: [3, 3], width: 1 } },
    name: left ? yAxisTitle : '',
    nameLocation: 'middle', nameGap: 99,
    nameTextStyle: { fontSize: 35, fontFamily: FONT, color: INK },
  };
}
function yAxisMinor(p: number, pos: string) {
  return {
    type: 'value', gridIndex: p, position: pos, min: 0, max: 0.0055, interval: 0.0005,
    axisLine: { show: false, onZero: false },
    axisTick: { show: true, inside: true, length: 5, lineStyle: { color: INK, width: 1.5 } },
    axisLabel: { show: false }, splitLine: { show: false },
  };
}

function buildOption() {
  const grid = gridTops.map((t) => ({ left: 154, width: 852, top: t, height: gridH, show: false }));
  const xAxis: any[] = [];
  const yAxis: any[] = [];
  gridTops.forEach((_, p) => {
    xAxis.push(xAxisMain(p, 'bottom'), xAxisMinor(p, 'bottom'), xAxisMain(p, 'top'), xAxisMinor(p, 'top'));
    yAxis.push(yAxisMain(p, 'left'), yAxisMinor(p, 'left'), yAxisMain(p, 'right'), yAxisMinor(p, 'right'));
  });
  const series: any[] = [];
  gridTops.forEach((_, p) => {
    seriesData.forEach((data, t) => {
      series.push({
        type: 'scatter', name: `${typeNames[t]}-${p}`,
        xAxisIndex: p * 4, yAxisIndex: p * 4, data,
        symbol: symbols[t], symbolSize: symbolSizes[t],
        itemStyle: { opacity: t === p ? 1 : 0.06 },
        z: t === p ? 4 : 3, silent: true,
      });
    });
  });
  const legend = gridTops.map((t, p) => ({
    left: 173, top: t + 12.5, orient: 'vertical',
    itemWidth: 12, itemHeight: 12, itemGap: 8,
    padding: [6, 8, 7, 33],
    borderColor: '#9a9a9a', borderWidth: 1.2,
    selectedMode: false,
    textStyle: { fontFamily: FONT, fontSize: 30, color: INK, padding: [0, 0, 0, 32] },
    formatter: (name: string) => name.split('-')[0],
    data: typeNames.map((n, ti) => ({
      name: `${n}-${p}`, icon: symbols[ti],
      itemStyle: { color: '#EE0000', opacity: ti === p ? 1 : 0.06 },
    })),
  }));
  return {
    animation: false,
    backgroundColor: '#ffffff',
    grid, xAxis, yAxis, series, legend,
    visualMap: {
      type: 'piecewise', show: false, dimension: 1,
      seriesIndex: series.map((_, i) => i),
      pieces: [
        { lt: 0.00099, color: '#EE0000' },
        { gte: 0.00099, lt: 0.00147, color: '#FF8000' },
        { gte: 0.00147, lt: 0.00198, color: '#FFE800' },
        { gte: 0.00198, lt: 0.00245, color: '#66D200' },
        { gte: 0.00245, lt: 0.0029, color: '#00C400' },
        { gte: 0.0029, lt: 0.00335, color: '#00BAE6' },
        { gte: 0.00335, lt: 0.0039, color: '#0066E0' },
        { gte: 0.0039, lt: 0.0045, color: '#0012B8' },
        { gte: 0.0045, color: '#B8B8B8' },
      ],
    },
  };
}

export default function App() {
  const ref = useRef<HTMLDivElement>(null);
  useEffect(() => {
    if (!ref.current) return;
    const chart = echarts.init(ref.current, null, { renderer: 'svg' });
    chart.setOption(buildOption() as any);
    return () => chart.dispose();
  }, []);
  return (
    <div
      ref={ref}
      style={{ position: 'absolute', left: 0, top: 0, width: 1053, height: 1072, background: '#fff' }}
    />
  );
}
